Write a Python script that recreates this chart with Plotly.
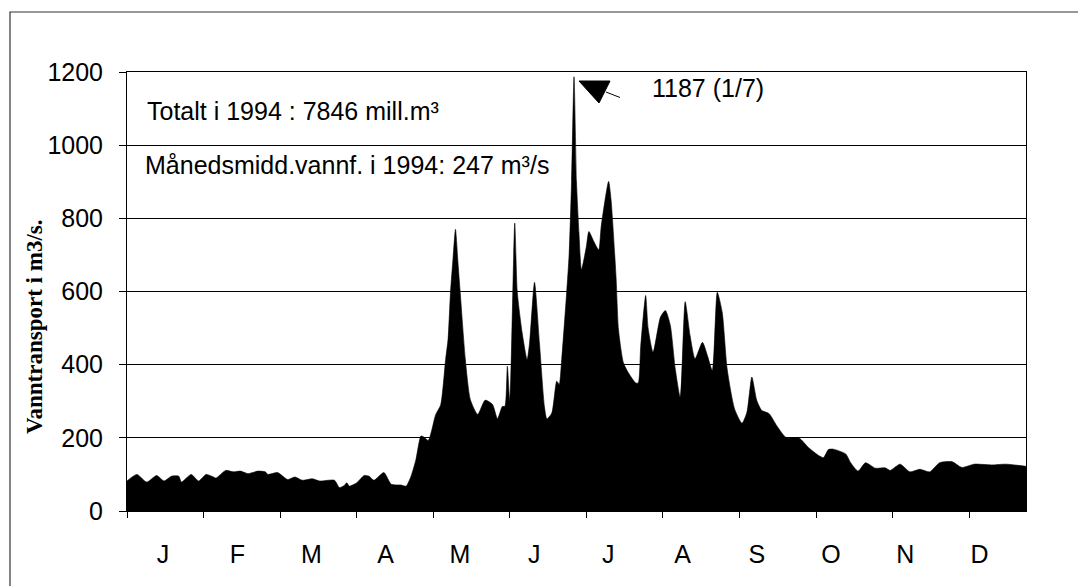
import plotly.graph_objects as go

# ---- data (day of year 1994, m3/s) ----
days = [1, 5, 9, 13, 16, 19, 22, 23, 27, 30, 33, 36, 37, 41, 44, 47, 50, 54, 57, 58,
        62, 66, 69, 72, 76, 79, 85, 87, 89, 90, 91, 94, 97, 99, 101, 105, 108, 112, 114, 116,
        118, 120, 121, 123, 126, 128, 130, 131, 132, 133, 134, 135, 136, 138, 140, 143, 146, 149, 151, 153,
        154, 155, 156, 158, 159, 161, 163, 164, 166, 168, 170, 171, 173, 175, 176, 177, 179, 180, 181, 182,
        183, 184, 185, 187, 188, 190, 192, 193, 196, 197, 199, 200, 202, 204, 207, 208, 209, 211, 212, 214,
        217, 219, 221, 223, 225, 227, 229, 231, 234, 236, 238, 240, 242, 244, 247, 250, 252, 254, 256, 258,
        261, 264, 268, 273, 277, 281, 283, 285, 287, 292, 294, 297, 300, 304, 308, 310, 314, 318, 322, 326,
        330, 335, 339, 344, 351, 357, 365]
flow = [82, 100, 79, 97, 82, 95, 95, 79, 100, 82, 100, 93, 90, 111, 107, 109, 102, 109, 107, 100,
        105, 86, 93, 84, 88, 82, 84, 64, 70, 77, 68, 77, 97, 95, 84, 105, 73, 71, 68, 95,
        141, 205, 203, 193, 264, 290, 414, 470, 600, 690, 770, 680, 590, 414, 305, 264, 303, 291, 252, 286,
        286, 396, 300, 787, 600, 487, 414, 459, 625, 459, 286, 252, 268, 355, 346, 414, 596, 700, 900, 1187,
        900, 760, 660, 723, 764, 737, 714, 778, 901, 850, 641, 496, 405, 378, 350, 350, 450, 589, 500, 434,
        530, 548, 507, 388, 311, 572, 479, 416, 461, 425, 384, 598, 543, 388, 279, 240, 270, 366, 302, 275,
        266, 234, 200, 200, 173, 152, 146, 168, 169, 156, 132, 109, 132, 117, 118, 111, 128, 107, 114, 107,
        132, 135, 119, 128, 126, 128, 122]

month_labels = ["J", "F", "M", "A", "M", "J", "J", "A", "S", "O", "N", "D"]
y_ticks = [0, 200, 400, 600, 800, 1000, 1200]

peak_text = "1187 (1/7)"
info1 = "Totalt i 1994 : 7846 mill.m³"
info2 = "Månedsmidd.vannf. i 1994: 247 m³/s"
y_title = "Vanntransport i m3/s."

# ---- layout geometry (pixels) ----
W, H = 1078, 586
L, R, T, B = 127, 1026, 72, 511
pw, ph = R - L, B - T


def px(xp):
    return (xp - L) / pw


def py(yp):
    return (B - yp) / ph


SANS = "Arial, Liberation Sans, sans-serif"
SERIF = "Times New Roman, Liberation Serif, serif"
FS = 25

label_pos = [15.6 + 30.05 * i for i in range(len(month_labels))]
tick_pos = [1 + 31 * i for i in range(len(month_labels))]

fig = go.Figure()
fig.add_trace(go.Scatter(
    x=days, y=flow, mode="lines", fill="tozeroy",
    line=dict(color="black", width=0.6, shape="spline", smoothing=0.6), fillcolor="black",
    hoverinfo="x+y", showlegend=False,
))

fig.update_layout(
    width=W, height=H,
    margin=dict(l=L, r=W - R, t=T, b=H - B),
    paper_bgcolor="white", plot_bgcolor="white",
    font=dict(family=SANS, color="black", size=FS),
    xaxis=dict(
        range=[1, 365], tickmode="array", tickvals=label_pos, ticktext=month_labels,
        ticks="", showgrid=False, zeroline=False,
        showline=True, linecolor="black", linewidth=1, mirror=True,
        tickfont=dict(family=SANS, size=FS, color="black"),
        ticklabelstandoff=21,
        minor=dict(tickmode="array", tickvals=tick_pos, ticks="outside", ticklen=6,
                   tickcolor="black", tickwidth=1, showgrid=False),
    ),
    yaxis=dict(
        range=[0, 1200], tickmode="array", tickvals=y_ticks,
        ticks="outside", ticklen=7, tickcolor="black", tickwidth=1,
        showgrid=True, gridcolor="black", gridwidth=1, zeroline=False,
        showline=True, linecolor="black", linewidth=1, mirror=True,
        tickfont=dict(family=SANS, size=FS, color="black"),
        ticklabelstandoff=11,
    ),
)

# outer frame
fig.add_shape(type="rect", xref="paper", yref="paper",
              x0=px(10), x1=px(1100), y0=py(600), y1=py(12),
              line=dict(color="#333333", width=1.2), layer="below")

# peak marker: triangle and pointer line
fig.add_shape(type="path", xref="paper", yref="paper",
              path=f"M {px(579)} {py(81)} L {px(610)} {py(81)} L {px(599)} {py(103)} Z",
              fillcolor="black", line=dict(color="black", width=1))
fig.add_shape(type="line", xref="paper", yref="paper",
              x0=px(606), y0=py(92), x1=px(620), y1=py(97.5),
              line=dict(color="black", width=1))

fig.add_annotation(text=peak_text, xref="paper", yref="paper", x=px(650), y=py(88),
                   xanchor="left", yanchor="middle", showarrow=False,
                   font=dict(family=SANS, size=FS, color="black"))
fig.add_annotation(text=info1, xref="paper", yref="paper", x=px(145), y=py(111),
                   xanchor="left", yanchor="middle", showarrow=False,
                   font=dict(family=SANS, size=FS, color="black"))
fig.add_annotation(text=info2, xref="paper", yref="paper", x=px(143), y=py(165),
                   xanchor="left", yanchor="middle", showarrow=False,
                   font=dict(family=SANS, size=FS, color="black"))
fig.add_annotation(text=f"<b>{y_title}</b>", xref="paper", yref="paper", x=px(34), y=py(327),
                   xanchor="center", yanchor="middle", showarrow=False, textangle=-90,
                   font=dict(family=SERIF, size=23, color="black"))

fig.write_html("out.html", config={"displayModeBar": False},
               post_script="document.body.style.margin='0';")
